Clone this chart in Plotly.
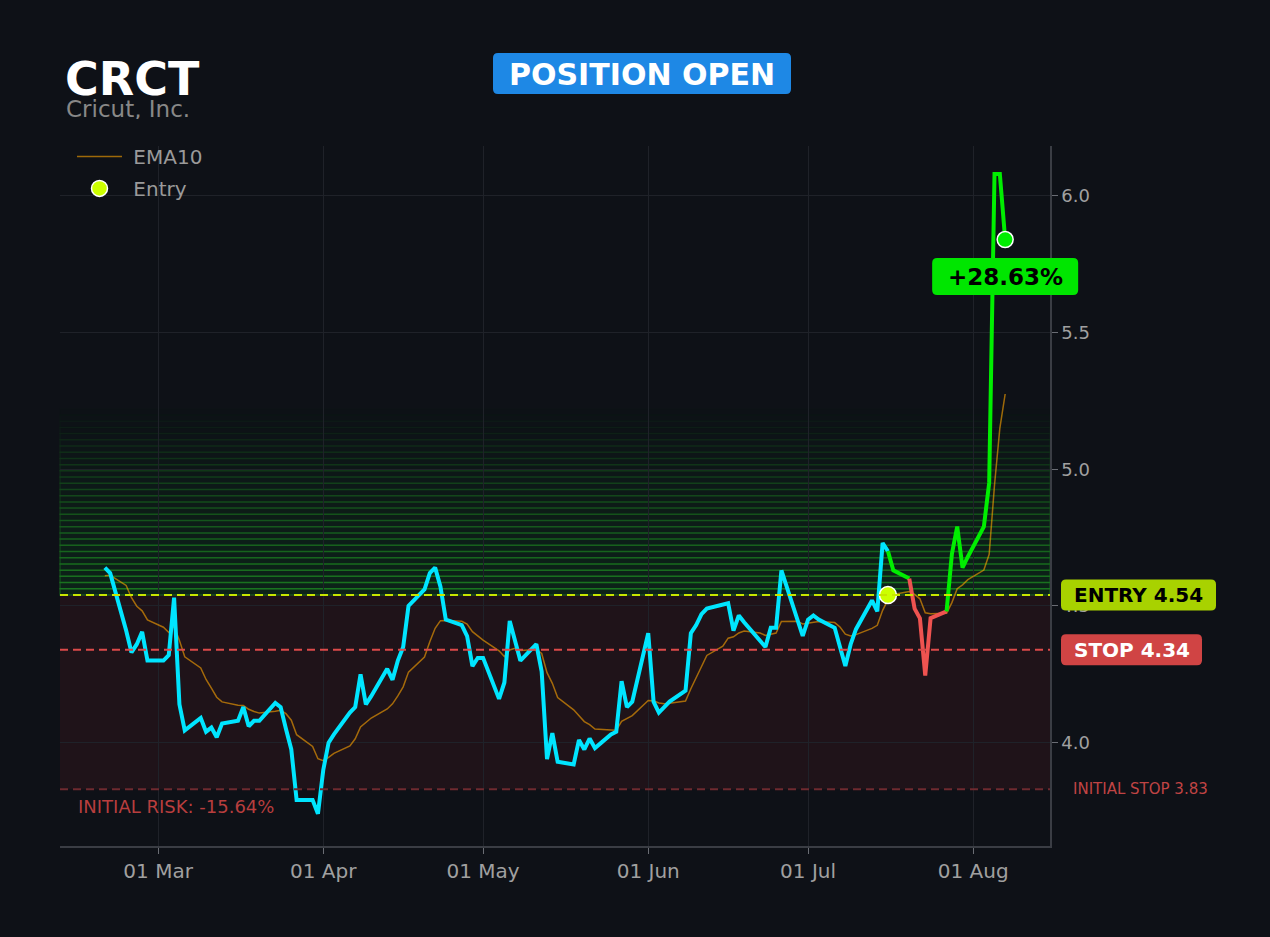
import pandas as pd
import plotly.graph_objects as go

# price history (daily closes) and the 10-day EMA
dates = [
    "2026-02-19", "2026-02-20", "2026-02-23", "2026-02-24", "2026-02-25", "2026-02-26", "2026-02-27",
    "2026-03-02", "2026-03-03", "2026-03-04", "2026-03-05", "2026-03-06",
    "2026-03-09", "2026-03-10", "2026-03-11", "2026-03-12", "2026-03-13",
    "2026-03-16", "2026-03-17", "2026-03-18", "2026-03-19", "2026-03-20",
    "2026-03-23", "2026-03-24", "2026-03-25", "2026-03-26", "2026-03-27",
    "2026-03-30", "2026-03-31",
    "2026-04-01", "2026-04-02", "2026-04-03",
    "2026-04-06", "2026-04-07", "2026-04-08", "2026-04-09", "2026-04-10",
    "2026-04-13", "2026-04-14", "2026-04-15", "2026-04-16", "2026-04-17",
    "2026-04-20", "2026-04-21", "2026-04-22", "2026-04-23", "2026-04-24",
    "2026-04-27", "2026-04-28", "2026-04-29", "2026-04-30",
    "2026-05-01",
    "2026-05-04", "2026-05-05", "2026-05-06", "2026-05-07", "2026-05-08",
    "2026-05-11", "2026-05-12", "2026-05-13", "2026-05-14", "2026-05-15",
    "2026-05-18", "2026-05-19", "2026-05-20", "2026-05-21", "2026-05-22",
    "2026-05-25", "2026-05-26", "2026-05-27", "2026-05-28", "2026-05-29",
    "2026-06-01", "2026-06-02", "2026-06-03", "2026-06-04", "2026-06-05",
    "2026-06-08", "2026-06-09", "2026-06-10", "2026-06-11", "2026-06-12",
    "2026-06-15", "2026-06-16", "2026-06-17", "2026-06-18", "2026-06-19",
    "2026-06-22", "2026-06-23", "2026-06-24", "2026-06-25", "2026-06-26",
    "2026-06-29", "2026-06-30",
    "2026-07-01", "2026-07-02", "2026-07-03",
    "2026-07-06", "2026-07-07", "2026-07-08", "2026-07-09", "2026-07-10",
    "2026-07-13", "2026-07-14", "2026-07-15", "2026-07-16", "2026-07-17",
    "2026-07-20", "2026-07-21", "2026-07-22", "2026-07-23", "2026-07-24",
    "2026-07-27", "2026-07-28", "2026-07-29", "2026-07-30", "2026-07-31",
    "2026-08-03", "2026-08-04", "2026-08-05", "2026-08-06", "2026-08-07",
]
closes = [
    4.64, 4.62, 4.41, 4.33, 4.36, 4.405, 4.30,
    4.30, 4.32, 4.53, 4.14, 4.045,
    4.09, 4.04, 4.055, 4.02, 4.07,
    4.08, 4.13, 4.06, 4.08, 4.08,
    4.145, 4.13, 4.05, 3.975, 3.79,
    3.79, 3.74,
    3.90, 4.00, 4.03,
    4.11, 4.13, 4.25, 4.14, 4.17,
    4.27, 4.23, 4.30, 4.35, 4.50,
    4.56, 4.62, 4.64, 4.57, 4.45,
    4.43, 4.39, 4.28, 4.31,
    4.31,
    4.16, 4.22, 4.445, 4.37, 4.30,
    4.36, 4.26, 3.94, 4.035, 3.93,
    3.92, 4.01, 3.975, 4.015, 3.98,
    4.03, 4.04, 4.225, 4.13, 4.15,
    4.40, 4.15, 4.11, 4.13, 4.15,
    4.19, 4.40, 4.43, 4.47, 4.49,
    4.505, 4.51, 4.41, 4.465, 4.44,
    4.37, 4.35, 4.42, 4.42, 4.63,
    4.45, 4.39,
    4.45, 4.465, 4.45,
    4.42, 4.35, 4.28, 4.36, 4.415,
    4.52, 4.48, 4.73, 4.70, 4.63,
    4.60, 4.49, 4.455, 4.245, 4.455,
    4.48, 4.69, 4.79, 4.64, 4.68,
    4.79, 4.95, 6.08, 6.08, 5.84,
]
ema10 = [
    4.610, 4.612, 4.575, 4.530, 4.499, 4.482, 4.449,
    4.422, 4.403, 4.426, 4.374, 4.314,
    4.273, 4.231, 4.199, 4.166, 4.149,
    4.137, 4.136, 4.122, 4.114, 4.108,
    4.115, 4.118, 4.106, 4.082, 4.029,
    3.986, 3.941,
    3.934, 3.946, 3.961,
    3.988, 4.014, 4.057, 4.072, 4.090,
    4.123, 4.142, 4.171, 4.204, 4.258,
    4.313, 4.369, 4.418, 4.446, 4.447,
    4.444, 4.434, 4.406, 4.389,
    4.375,
    4.336, 4.315, 4.339, 4.345, 4.337,
    4.341, 4.326, 4.256, 4.217, 4.165,
    4.120, 4.100, 4.077, 4.066, 4.050,
    4.046, 4.045, 4.078, 4.087, 4.099,
    4.154, 4.153, 4.145, 4.142, 4.144,
    4.152, 4.197, 4.239, 4.281, 4.319,
    4.353, 4.382, 4.387, 4.401, 4.408,
    4.401, 4.392, 4.397, 4.401, 4.443,
    4.444, 4.434,
    4.437, 4.442, 4.443,
    4.439, 4.423, 4.397, 4.390, 4.395,
    4.418, 4.429, 4.484, 4.523, 4.542,
    4.553, 4.542, 4.526, 4.475, 4.471,
    4.473, 4.512, 4.563, 4.577, 4.596,
    4.631, 4.689, 4.942, 5.149, 5.275,
]
assert len(dates) == len(closes) == len(ema10)

ticker = "CRCT"
company = "Cricut, Inc."
status = "POSITION OPEN"
entry_date = "2026-07-16"
entry_price = 4.54
stop_price = 4.34
initial_stop = 3.83

x_range = ["2026-02-10 14:00", "2026-08-15 10:00"]
y_range = [3.622, 6.182]

BG = "#0e1117"
CYAN = "#00e5ff"
GREEN = "#00ee00"
RED = "#ef5350"
FONT = "DejaVu Sans"
DASH = "8px,5px"

# plot area in pixels (used to place the text that sits outside it)
L, T, PW, PH = 60, 146, 990, 700


def px(x):
    return (x - L) / PW


def py(y):
    return (T + PH - y) / PH


def date_to_paper(d):
    # shapes on the x axis get clipped, so badges that stick out use paper coords
    t0, t1 = pd.Timestamp(x_range[0]), pd.Timestamp(x_range[1])
    return (pd.Timestamp(d) - t0) / (t1 - t0)


def badge(xref, xanchor, yref, yanchor, x0, x1, ymid, h, color, r=5):
    """rounded rectangle, sized in pixels around an anchor point"""
    y0, y1 = ymid - h / 2, ymid + h / 2
    path = (f"M{x0 + r},{y0} L{x1 - r},{y0} Q{x1},{y0} {x1},{y0 + r} "
            f"L{x1},{y1 - r} Q{x1},{y1} {x1 - r},{y1} L{x0 + r},{y1} "
            f"Q{x0},{y1} {x0},{y1 - r} L{x0},{y0 + r} Q{x0},{y0} {x0 + r},{y0} Z")
    return dict(type="path", path=path, xref=xref, yref=yref,
                xsizemode="pixel", ysizemode="pixel", xanchor=xanchor, yanchor=yanchor,
                fillcolor=color, line_width=0, layer="above")


fig = go.Figure()

# shaded zones: risk (initial stop -> entry) and a fading green band above entry
shapes = [
    dict(type="rect", xref="paper", x0=0, x1=1, yref="y", y0=initial_stop, y1=entry_price,
         fillcolor="rgba(255,60,60,0.075)", line_width=0, layer="below"),
]
n_bands = 30
band_top = entry_price * 1.15
step = (band_top - entry_price) / n_bands
for i in range(n_bands):
    fade = 1 - i / n_bands
    shapes.append(dict(
        type="rect", xref="paper", x0=0, x1=1, yref="y",
        y0=entry_price + i * step, y1=entry_price + (i + 1) * step,
        fillcolor=f"rgba(0,200,40,{0.10 * fade:.3f})",
        line=dict(color=f"rgba(40,200,40,{0.30 * fade:.3f})", width=1.5),
        layer="below",
    ))
shapes += [
    dict(type="line", xref="paper", x0=0, x1=1, yref="y", y0=entry_price, y1=entry_price,
         line=dict(color="#c8e600", width=2, dash=DASH)),
    dict(type="line", xref="paper", x0=0, x1=1, yref="y", y0=stop_price, y1=stop_price,
         line=dict(color="#dc4a4a", width=2, dash=DASH)),
    dict(type="line", xref="paper", x0=0, x1=1, yref="y", y0=initial_stop, y1=initial_stop,
         line=dict(color="#6e2a2f", width=2, dash=DASH)),
]

fig.add_trace(go.Scatter(
    x=dates, y=ema10, name="\u00a0EMA10", mode="lines", legendgroup="ema",
    line=dict(color="rgba(255,165,0,0.6)", width=1.5),
))

# price until entry in cyan
entry_idx = dates.index(entry_date)
fig.add_trace(go.Scatter(
    x=dates[:entry_idx + 1], y=closes[:entry_idx + 1], mode="lines",
    line=dict(color=CYAN, width=4), showlegend=False,
))

# after entry: green while above entry, red while below
runs = []
for k in range(entry_idx + 1, len(dates)):
    color = GREEN if closes[k] >= entry_price else RED
    if runs and runs[-1][0] == color:
        runs[-1][1].append(k)
    else:
        runs.append([color, [k - 1, k]])
for color, idx in runs:
    fig.add_trace(go.Scatter(
        x=[dates[j] for j in idx], y=[closes[j] for j in idx], mode="lines",
        line=dict(color=color, width=4), showlegend=False,
    ))

fig.add_trace(go.Scatter(
    x=[entry_date], y=[entry_price], name="\u00a0Entry", mode="markers", legendgroup="entry",
    marker=dict(color="#ccff00", size=17, line=dict(color="white", width=1.5)),
))
fig.add_trace(go.Scatter(
    x=[dates[-1]], y=[closes[-1]], mode="markers", showlegend=False,
    marker=dict(color=GREEN, size=16, line=dict(color="white", width=1.5)),
))

pnl = closes[-1] / entry_price - 1
risk = initial_stop / entry_price - 1

# badge backgrounds (text goes on top as annotations)
shapes += [
    badge("paper", px(642), "paper", py(73.5), -149, 149, 0, 41, "#1e88e5"),
    badge("paper", px(1061), "y", entry_price, 0, 155, 0, 31, "#a8d200"),
    badge("paper", px(1061), "y", stop_price, 0, 141, 0, 31, "#d04444"),
    badge("paper", date_to_paper(dates[-1]), "y", closes[-1], -73, 73, -37, 37, "#00e600"),
]

annotations = [
    dict(text=f"<b>{ticker}</b>", xref="paper", yref="paper", x=px(63), y=py(79),
         xanchor="left", yanchor="middle", showarrow=False, height=40,
         font=dict(size=46, color="white", family=FONT)),
    dict(text=company, xref="paper", yref="paper", x=px(64), y=py(109),
         xanchor="left", yanchor="middle", showarrow=False, height=20,
         font=dict(size=23, color="#888888", family=FONT)),
    dict(text=f"<b>{status}</b>", xref="paper", yref="paper", x=px(642), y=py(74),
         xanchor="center", yanchor="middle", showarrow=False,
         font=dict(size=30, color="white", family=FONT)),
    dict(text=f"<b>ENTRY {entry_price:.2f}</b>", xref="paper", yref="y", x=px(1138.5), y=entry_price,
         xanchor="center", yanchor="middle", showarrow=False,
         font=dict(size=20, color="black", family=FONT)),
    dict(text=f"<b>STOP {stop_price:.2f}</b>", xref="paper", yref="y", x=px(1131.5), y=stop_price,
         xanchor="center", yanchor="middle", showarrow=False,
         font=dict(size=20, color="white", family=FONT)),
    dict(text=f"INITIAL STOP {initial_stop:.2f}", xref="paper", yref="y", x=px(1071), y=initial_stop,
         xanchor="left", yanchor="middle", showarrow=False,
         font=dict(size=15, color="#c04444", family=FONT)),
    dict(text=f"INITIAL RISK: {risk * 100:.2f}%", xref="paper", yref="y", x=px(76), y=initial_stop,
         yshift=-17, xanchor="left", yanchor="middle", showarrow=False,
         font=dict(size=18, color="#b83e3e", family=FONT)),
    dict(text=f"<b>{pnl * 100:+.2f}%</b>", xref="x", yref="y", x=dates[-1], y=closes[-1],
         yshift=-37, xanchor="center", yanchor="middle", showarrow=False,
         font=dict(size=23, color="black", family=FONT)),
]

fig.update_layout(
    width=1270, height=937,
    paper_bgcolor=BG, plot_bgcolor=BG,
    margin=dict(l=L, r=1270 - L - PW, t=T, b=937 - T - PH),
    font=dict(family=FONT, color="#a0a0a0"),
    shapes=shapes, annotations=annotations,
    legend=dict(x=px(72), y=1.013, xanchor="left", yanchor="top",
                itemwidth=45, tracegroupgap=3,
                bgcolor="rgba(0,0,0,0)", font=dict(size=20, color="#9a9a9a")),
    xaxis=dict(
        type="date", range=x_range,
        tick0="2026-03-01", dtick="M1", tickformat="%d %b",
        showgrid=True, gridcolor="#1f2229", zeroline=False,
        showline=True, linecolor="#3a3d44", linewidth=1.5,
        ticks="outside", ticklen=6, tickcolor="#6a6d74",
        tickfont=dict(size=20, color="#a0a0a0"),
    ),
    yaxis=dict(
        side="right", range=y_range, dtick=0.5, tickformat=".1f",
        showgrid=True, gridcolor="#1f2229", zeroline=False,
        showline=True, linecolor="#3a3d44", linewidth=1.5,
        ticks="outside", ticklen=6, tickcolor="#6a6d74",
        tickfont=dict(size=18, color="#a0a0a0"),
    ),
)

# page margin off so the dark figure fills the window
fig.write_html("out.html", config={"displayModeBar": False},
               post_script="document.body.style.margin='0';"
                           "document.body.style.background='#0e1117';")
